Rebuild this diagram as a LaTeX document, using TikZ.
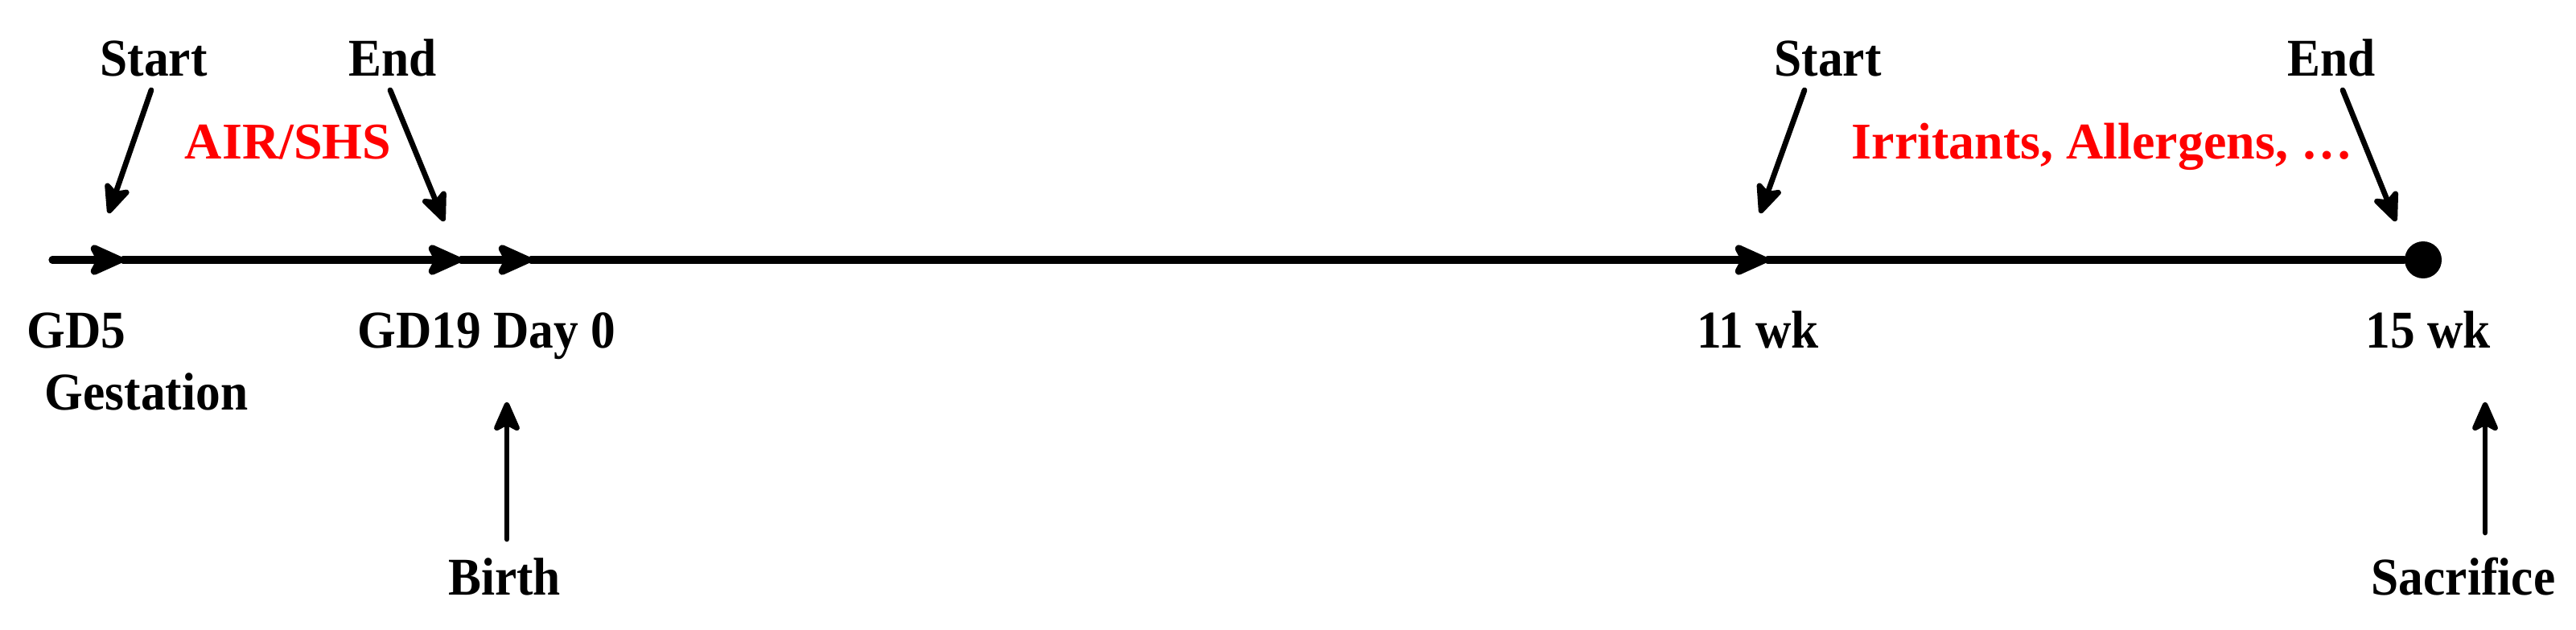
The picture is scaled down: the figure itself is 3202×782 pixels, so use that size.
\documentclass[tikz,border=0pt]{standalone}
\usepackage{fontspec}
\setmainfont{Liberation Serif}
\newfontfamily\lblfont{Liberation Serif}[FakeStretch=0.93]
\usetikzlibrary{arrows.meta}
\begin{document}
\begin{tikzpicture}[x=0.25pt,y=-0.25pt,
  lbl/.style={font=\lblfont\bfseries\fontsize{16.5}{20}\selectfont, inner sep=0pt, anchor=base},
  redlbl/.style={font=\bfseries\fontsize{16}{20}\selectfont, text=red, inner sep=0pt, anchor=base},
  tline/.style={line width=2.3pt, line cap=round},
  tarr/.style={tline, -{Stealth[length=13pt,width=11.5pt,inset=3pt,round]}},
  darr/.style={line width=1.7pt, line cap=round, -{Stealth[length=11pt,width=9.5pt,inset=2.5pt,round]}},
  enddot/.style={circle, fill=black, inner sep=0pt, minimum size=11.5pt}]
\useasboundingbox (0,0) rectangle (3202,782);

% timeline points
\coordinate (L) at (65,323);
\coordinate (p1) at (153,323);
\coordinate (p2) at (573,323);
\coordinate (p3) at (660,323);
\coordinate (p4) at (2197,323);
\node[enddot] (dot) at (3012,323) {};

\draw[tarr] (L) -- (p1);
\draw[tarr] (p1) -- (p2);
\draw[tarr] (p2) -- (p3);
\draw[tarr] (p3) -- (p4);
\draw[tline] (p4) -- (dot);

% upper labels
\node[lbl] (start1) at (191,94) {Start};
\node[lbl] (end1) at (488,94) {End};
\node[lbl] (start2) at (2272,94) {Start};
\node[lbl] (end2) at (2898,94) {End};
\node[redlbl] (air) at (358,197) {AIR/SHS};
\node[redlbl] (irr) at (2613,197) {Irritants, Allergens, …};

% lower labels
\node[lbl] (gd5) at (95,432) {GD5};
\node[lbl] (gest) at (182,509) {Gestation};
\node[lbl] (gd19) at (605,432) {GD19 Day 0};
\node[lbl] (w11) at (2185,432) {11 wk};
\node[lbl] (w15) at (3018,432) {15 wk};
\node[lbl] (birth) at (627,739) {Birth};
\node[lbl] (sacr) at (3062,739) {Sacrifice};

% pointer arrows
\coordinate (s1a) at (188,112);  \coordinate (s1b) at (135,265);
\coordinate (e1a) at (485,112);  \coordinate (e1b) at (552,275);
\coordinate (s2a) at (2243,112); \coordinate (s2b) at (2188,265);
\coordinate (e2a) at (2912,112); \coordinate (e2b) at (2978,275);
\coordinate (ba) at (630,670);   \coordinate (bb) at (630,500);
\coordinate (sa) at (3089,662);  \coordinate (sb) at (3089,500);

\draw[darr] (s1a) -- (s1b);
\draw[darr] (e1a) -- (e1b);
\draw[darr] (s2a) -- (s2b);
\draw[darr] (e2a) -- (e2b);
\draw[darr] (ba) -- (bb);
\draw[darr] (sa) -- (sb);
\end{tikzpicture}
\end{document}
